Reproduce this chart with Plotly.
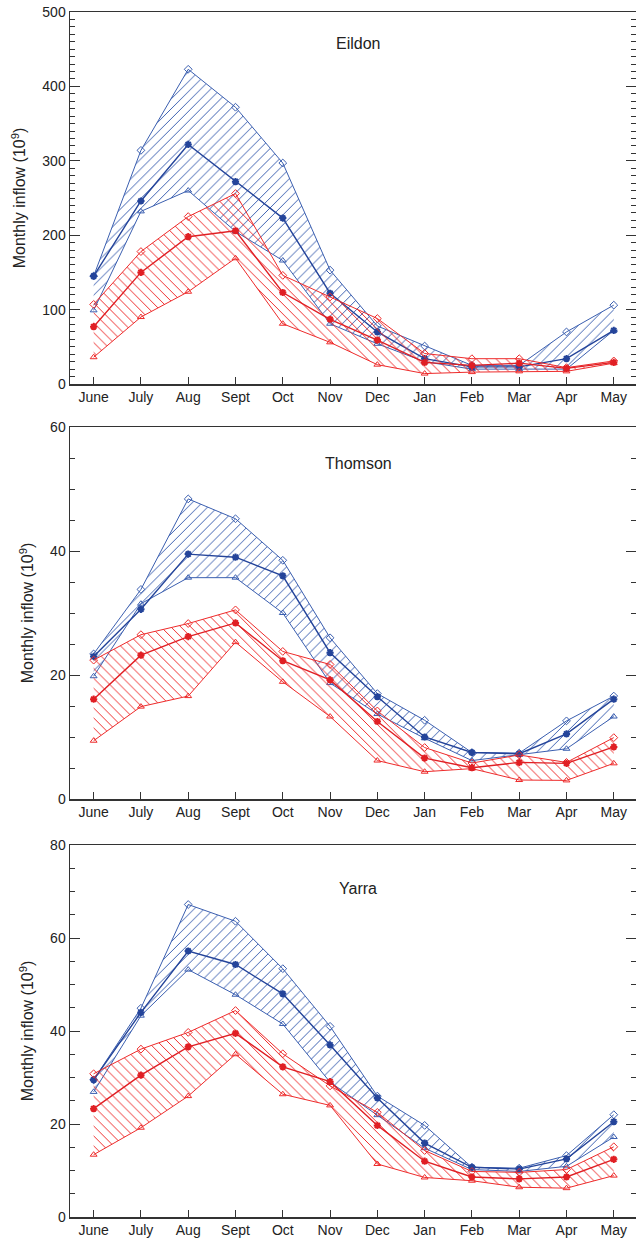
import plotly.graph_objects as go

months = ["June", "July", "Aug", "Sept", "Oct", "Nov", "Dec", "Jan", "Feb", "Mar", "Apr", "May"]
panel_names = ["Eildon", "Thomson", "Yarra"]

# Eildon
eildon_hist_upper = [145, 314, 423, 372, 297, 153, 78, 51, 25, 25, 70, 106]
eildon_hist_median = [145, 246, 322, 272, 223, 122, 70, 34, 23, 23, 34, 72]
eildon_hist_lower = [99, 232, 260, 205, 166, 81, 54, 30, 20, 20, 20, 72]
eildon_fut_upper = [107, 178, 225, 256, 146, 117, 88, 41, 34, 34, 22, 31]
eildon_fut_median = [77, 150, 198, 206, 123, 87, 59, 29, 25, 28, 21, 29]
eildon_fut_lower = [36, 90, 124, 169, 81, 56, 26, 14, 16, 17, 17, 28]

# Thomson
thomson_hist_upper = [23.4, 33.8, 48.4, 45.2, 38.5, 26.0, 17.0, 12.7, 7.5, 7.4, 12.6, 16.6]
thomson_hist_median = [23.0, 30.6, 39.5, 39.0, 36.0, 23.6, 16.5, 10.0, 7.5, 7.3, 10.5, 16.1]
thomson_hist_lower = [19.8, 31.5, 35.7, 35.7, 30.0, 18.7, 13.7, 9.8, 6.2, 7.1, 8.1, 13.3]
thomson_fut_upper = [22.4, 26.5, 28.3, 30.5, 23.8, 21.7, 14.2, 8.3, 5.8, 7.1, 5.9, 9.9]
thomson_fut_median = [16.1, 23.2, 26.2, 28.4, 22.3, 19.2, 12.5, 6.6, 5.05, 5.9, 5.75, 8.4]
thomson_fut_lower = [9.4, 14.9, 16.6, 25.3, 18.9, 13.3, 6.2, 4.4, 4.9, 3.06, 3.0, 5.75]

# Yarra
yarra_hist_upper = [29.5, 44.9, 67.2, 63.6, 53.4, 41.0, 26.0, 19.7, 10.7, 10.5, 13.2, 22.0]
yarra_hist_median = [29.5, 44.0, 57.2, 54.3, 48.0, 37.0, 25.6, 15.9, 10.7, 10.3, 12.5, 20.5]
yarra_hist_lower = [26.9, 43.3, 53.2, 47.8, 41.5, 29.0, 21.9, 14.8, 10.2, 9.8, 10.9, 17.2]
yarra_fut_upper = [30.8, 36.1, 39.7, 44.4, 35.1, 28.2, 22.5, 14.3, 9.8, 9.6, 10.2, 15.1]
yarra_fut_median = [23.3, 30.5, 36.6, 39.5, 32.3, 29.1, 19.7, 12.0, 8.6, 8.2, 8.6, 12.4]
yarra_fut_lower = [13.4, 19.2, 26.0, 35.0, 26.4, 24.0, 11.4, 8.5, 7.8, 6.4, 6.2, 8.9]

y_ranges = [[0, 500], [0, 60], [0, 80]]
y_dticks = [100, 20, 20]
y_minor = [10, 5, 5]

panels = [
    (eildon_hist_upper, eildon_hist_median, eildon_hist_lower,
     eildon_fut_upper, eildon_fut_median, eildon_fut_lower),
    (thomson_hist_upper, thomson_hist_median, thomson_hist_lower,
     thomson_fut_upper, thomson_fut_median, thomson_fut_lower),
    (yarra_hist_upper, yarra_hist_median, yarra_hist_lower,
     yarra_fut_upper, yarra_fut_median, yarra_fut_lower),
]

BLUE = "#3b5fb0"
BLUE_DARK = "#24449a"
RED = "#ee2b2b"
RED_DARK = "#e01f24"

W, H = 636, 1240
ml, mr, mt, mb = 70, 0, 12, 23
ph = H - mt - mb
# pixel extents of each panel (top, bottom)
pix = [(12, 384), (427, 799), (845, 1217)]
bottom_page = H - mb
domains = [[(bottom_page - b) / ph, (bottom_page - t) / ph] for t, b in pix]
domains[0][1] = 1.0
domains[2][0] = 0.0

xs = list(range(len(months)))
fig = go.Figure()

for i, (hu, hm, hl, fu, fm, fl) in enumerate(panels):
    xa = "x" if i == 0 else f"x{i+1}"
    ya = "y" if i == 0 else f"y{i+1}"
    for (up, med, lo, col, dcol, shape) in [
        (hu, hm, hl, BLUE, BLUE_DARK, "/"),
        (fu, fm, fl, RED, RED_DARK, "\\"),
    ]:
        # hatched band
        fig.add_trace(go.Scatter(
            x=xs + xs[::-1], y=list(up) + list(lo)[::-1],
            xaxis=xa, yaxis=ya, mode="none", fill="toself",
            fillcolor="rgba(0,0,0,0)",
            fillpattern=dict(shape=shape, fgcolor=col, bgcolor="rgba(0,0,0,0)",
                             size=7, solidity=0.14, fillmode="replace"),
            hoverinfo="skip", showlegend=False))
        fig.add_trace(go.Scatter(
            x=xs, y=up, xaxis=xa, yaxis=ya, mode="lines+markers",
            line=dict(color=col, width=1),
            marker=dict(symbol="diamond-open", size=6, color=col, line=dict(width=1)),
            showlegend=False))
        fig.add_trace(go.Scatter(
            x=xs, y=lo, xaxis=xa, yaxis=ya, mode="lines+markers",
            line=dict(color=col, width=1),
            marker=dict(symbol="triangle-up-open", size=6, color=col, line=dict(width=1)),
            showlegend=False))
        fig.add_trace(go.Scatter(
            x=xs, y=med, xaxis=xa, yaxis=ya, mode="lines+markers",
            line=dict(color=dcol, width=1.4),
            marker=dict(symbol="asterisk-open", size=6, color=dcol, line=dict(width=2, color=dcol)),
            showlegend=False))

axis_col = "#333333"
font_fam = "Liberation Sans, Arial, sans-serif"
layout = dict(
    width=W, height=H,
    margin=dict(l=ml, r=mr, t=mt, b=mb, autoexpand=False),
    plot_bgcolor="white", paper_bgcolor="white",
    font=dict(family=font_fam, size=14, color="#222222"),
    showlegend=False,
)
annotations = []
for i in range(3):
    sx = "" if i == 0 else str(i + 1)
    layout[f"xaxis{sx}"] = dict(
        domain=[0, 1], anchor=f"y{sx}", range=[-0.5, 11.47],
        tickmode="array", tickvals=xs, ticktext=months,
        showline=True, linecolor=axis_col, linewidth=1.5, mirror=True,
        ticks="inside", ticklen=7, tickwidth=1, tickcolor=axis_col,
        showgrid=False, zeroline=False, fixedrange=True, automargin=False,
        ticklabeloverflow="allow",
        tickfont=dict(size=14, color="#222222"),
    )
    layout[f"yaxis{sx}"] = dict(
        domain=domains[i], anchor=f"x{sx}", range=y_ranges[i],
        dtick=y_dticks[i], tick0=0,
        showline=True, linecolor=axis_col, linewidth=1.5, mirror="ticks",
        ticks="inside", ticklen=10, tickwidth=1, tickcolor=axis_col,
        minor=dict(dtick=y_minor[i], ticks="inside", ticklen=5, tickcolor=axis_col, tickwidth=1),
        showgrid=False, zeroline=False, fixedrange=True, automargin=False,
        ticklabeloverflow="allow",
        tickfont=dict(size=14, color="#222222"),
        title=dict(text="Monthly inflow (10<sup>9</sup>)", font=dict(size=16, color="#222222"), standoff=12),
    )
    tfrac = [0.914, 0.903, 0.884][i]
    annotations.append(dict(
        text=panel_names[i], xref=f"x{sx} domain", yref=f"y{sx} domain",
        x=0.509, y=tfrac, showarrow=False, xanchor="center", yanchor="middle",
        font=dict(size=16, color="#222222")))
layout["annotations"] = annotations
fig.update_layout(**layout)

# remove the default 8px page margin so the figure fills the window exactly
fig.write_html("out.html",
               config={"displayModeBar": False, "staticPlot": True},
               post_script="document.body.style.margin='0px';document.body.style.overflow='hidden';")
